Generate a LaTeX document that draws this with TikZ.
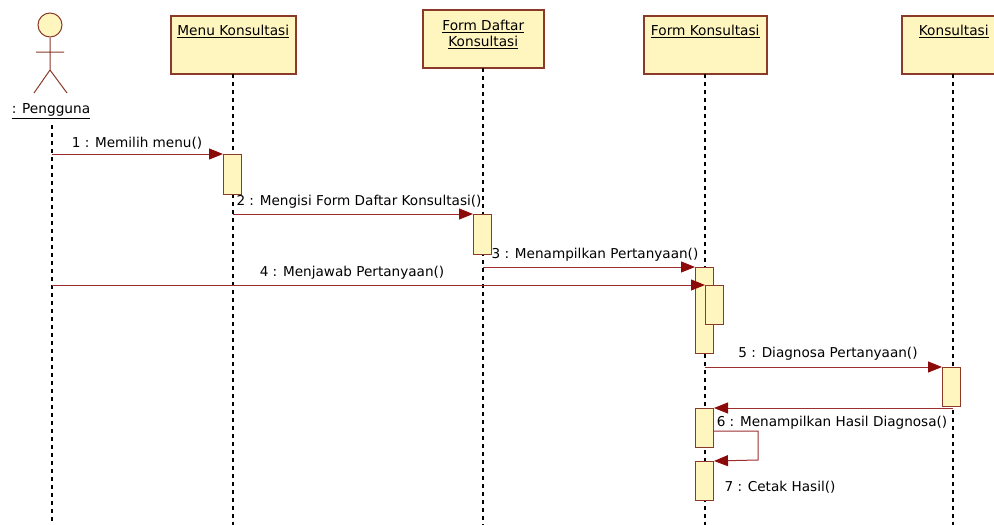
\documentclass[tikz,border=0pt]{standalone}
\usepackage{fontspec}
\setmainfont{DejaVu Sans}
\usetikzlibrary{arrows.meta}
\definecolor{boxfill}{HTML}{FFF6BF}
\definecolor{boxline}{HTML}{8B3A2A}
\definecolor{msgline}{HTML}{9B2F2F}
\definecolor{tipcol}{HTML}{8B0A0A}
\begin{document}
\begin{tikzpicture}[x=1pt,y=-1pt,
  objbox/.style={draw=boxline,fill=boxfill,line width=1.5pt,minimum height=58pt,inner sep=0pt,anchor=north west,align=center},
  actbar/.style={draw=boxline,fill=boxfill,line width=1pt,minimum width=18pt,inner sep=0pt,anchor=north west},
  lifeline/.style={line width=1.2pt,dash pattern=on 4pt off 4pt},
  msg/.style={draw=msgline,line width=1pt,-{Triangle[length=14pt,width=11pt,fill=tipcol,color=tipcol]}},
  lbl/.style={font=\fontsize{13.6}{15}\selectfont,inner sep=0pt},
  ttl/.style={font=\fontsize{13.7}{17}\selectfont}
]
\useasboundingbox (0,0) rectangle (994,525);
\begin{scope}
\clip (0,0) rectangle (994,525);
% object boxes
\node[objbox,minimum width=125pt] (mk) at (170,15) {};
\node[ttl,anchor=north] (mkt) at (mk.north) [yshift=-7pt] {\underline{Menu Konsultasi}};
\node[objbox,minimum width=121pt] (fd) at (422,9) {};
\node[ttl,anchor=north,align=center] (fdt) at (fd.north) [yshift=-8pt] {\underline{Form Daftar}\\[-1pt]\underline{Konsultasi}};
\node[objbox,minimum width=123pt] (fk) at (643,15) {};
\node[ttl,anchor=north] (fkt) at (fk.north) [yshift=-7pt] {\underline{Form Konsultasi}};
\node[objbox,minimum width=104pt] (ko) at (901,15) {};
\node[ttl,anchor=north] (kot) at (ko.north) [yshift=-7pt] {\underline{Konsultasi}};

% actor
\node[circle,draw=boxline,fill=boxfill,line width=1pt,minimum size=24pt,inner sep=0pt] (head) at (50,25) {};
\coordinate (hip) at (50,70);
\coordinate (arml) at (36,52);
\coordinate (armr) at (64,52);
\coordinate (legl) at (34,93);
\coordinate (legr) at (67,93);
\draw[boxline,line width=1pt] (head.south) -- (hip) (arml) -- (armr) (hip) -- (legl) (hip) -- (legr);
\node[ttl,anchor=center] (actor) at (51,111) {\underline{: Pengguna}};

% lifelines
\coordinate (pgtop) at (52,125);
\coordinate (pgbot) at (52,525);
\coordinate (mkbot) at (233,525);
\coordinate (fdbot) at (483,525);
\coordinate (fkbot) at (705,525);
\coordinate (kobot) at (953,525);
\draw[lifeline] (pgtop) -- (pgbot);
\draw[lifeline] (233,74) coordinate (mks) -- (mkbot);
\draw[lifeline] (483,68) coordinate (fds) -- (fdbot);
\draw[lifeline] (705,74) coordinate (fks) -- (fkbot);
\draw[lifeline] (953,74) coordinate (kos) -- (kobot);

% activations
\node[actbar,minimum height=40pt] (a1) at (223,154) {};
\node[actbar,minimum height=40pt] (a2) at (473,214) {};
\node[actbar,minimum height=86pt] (a3) at (695,267) {};
\node[actbar,minimum height=39pt] (a5) at (942,367) {};
\node[actbar,minimum height=39pt] (a6) at (695,408) {};
\node[actbar,minimum height=39pt] (a7) at (695,461) {};

% message endpoints
\coordinate (m1s) at (52,154);
\coordinate (m2s) at (233,214);
\coordinate (m3s) at (483,267);
\coordinate (m4s) at (52,285);
\coordinate (m5s) at (705,367);
\coordinate (m6s) at (953,408);
\coordinate (m7a) at (758,431);
\coordinate (m7b) at (758,460);

\draw[msg] (m1s) -- (a1.north west);
\draw[msg] (m2s) -- (a2.north west);
\draw[msg] (m3s) -- (a3.north west);
\draw[msg] (m4s) -- (705,285) coordinate (m4e);
\node[actbar,minimum height=39pt] (a4) at (m4e) {};
\draw[msg] (m5s) -- (a5.north west);
\draw[msg] (m6s) -- (a6.north east);
\draw[msg] (a6.east |- m7a) -- (m7a) -- (m7b) -- (a7.north east);

% labels
\node[lbl] (l1) at (137,143) {1 : Memilih menu()};
\node[lbl] (l2) at (359,202) {2 : Mengisi Form Daftar Konsultasi()};
\node[lbl] (l3) at (595,255) {3 : Menampilkan Pertanyaan()};
\node[lbl] (l4) at (352,273) {4 : Menjawab Pertanyaan()};
\node[lbl] (l5) at (828,354) {5 : Diagnosa Pertanyaan()};
\node[lbl] (l6) at (832,423) {6 : Menampilkan Hasil Diagnosa()};
\node[lbl] (l7) at (780,487) {7 : Cetak Hasil()};
\end{scope}
\end{tikzpicture}
\end{document}
